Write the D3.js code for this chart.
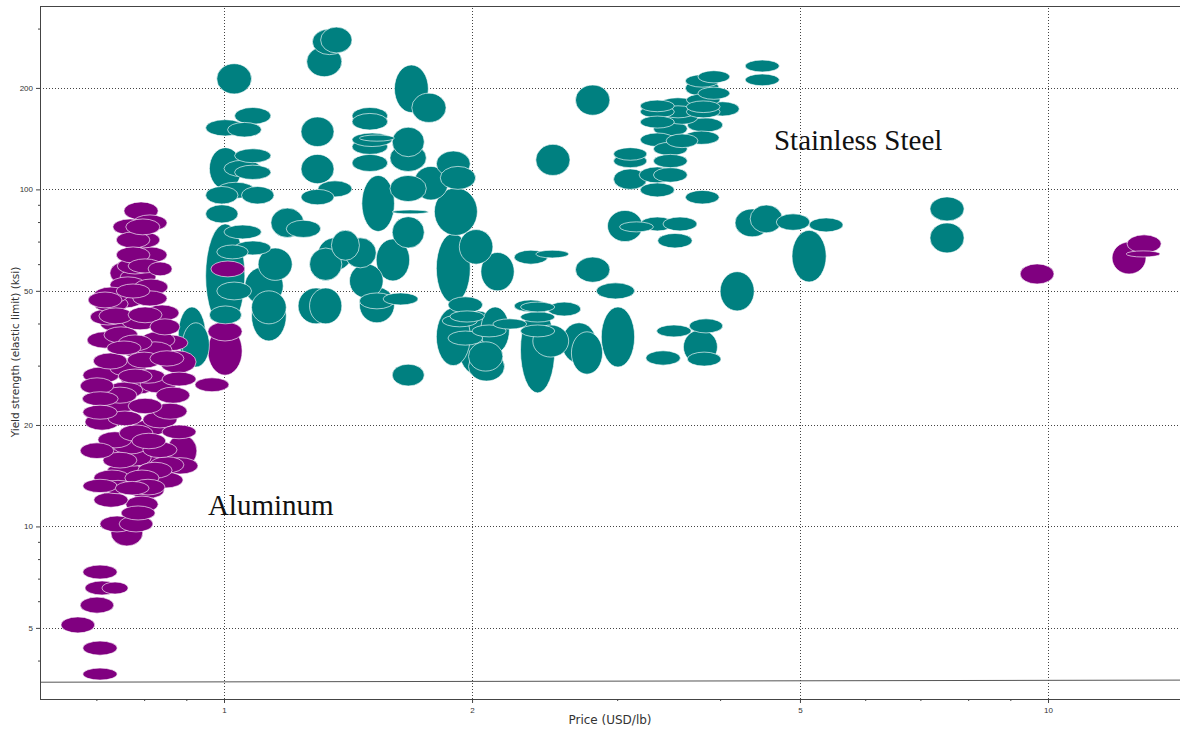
<!DOCTYPE html>
<html>
<head>
<meta charset="utf-8">
<script src="https://cdn.jsdelivr.net/npm/d3@7"></script>
<style>
  body { margin: 0; background: #fff; }
  svg { display: block; }
</style>
</head>
<body>
<svg id="chart"></svg>
<script>
// axis ticks
const priceTicks = [1, 2, 5, 10];
const priceMinorTicks = [0.7, 0.8, 0.9, 3, 4, 6, 7, 8, 9];
const strengthTicks = [5, 10, 20, 50, 100, 200];
const strengthMinorTicks = [4, 6, 7, 8, 9, 30, 40, 60, 70, 80, 90, 300];

// each material: [price low, price high, yield strength low, yield strength high]
const stainless = [
  [1.28,1.41,251,299],[1.31,1.43,254,303],[1.26,1.39,216,265],[0.98,1.08,192,236],
  [1.61,1.77,169,234],[1.69,1.86,158,193],[1.03,1.14,156,175],[1.01,1.11,143,158],
  [0.95,1.06,144,161],[1.24,1.36,134,164],[1.43,1.58,156,175],[1.43,1.58,150,168],
  [1.43,1.60,134,147],[1.46,1.61,139,145],[1.43,1.58,127,141],[1.43,1.58,113,127],
  [1.60,1.75,125,153],[1.59,1.76,113,136],[1.24,1.36,104,127],[1.30,1.43,95,106],
  [1.24,1.36,90,100],[0.96,1.05,100,133],[1.03,1.14,120,132],[1.00,1.11,109,122],
  [1.03,1.14,107,118],[0.98,1.09,94,105],[0.95,1.04,90.5,102],[1.05,1.15,90.5,102],
  [0.95,1.04,79.5,90],[1.14,1.25,72,88],[1.19,1.31,72,81],[1.00,1.11,71.3,78.4],
  [1.47,1.61,75,110],[1.59,1.76,92,110],[1.60,1.77,84.6,86.9],[1.60,1.75,67,83],
  [1.70,1.87,93,117],[1.81,1.99,109,130],[1.83,2.02,100,117],[1.80,2.03,73,101],
  [1.81,1.99,46,74],[1.93,2.12,60,76],[2.05,2.25,50,65],[2.25,2.47,60,66],
  [2.39,2.62,62.6,66],[2.67,2.94,53,63],[2.83,3.15,47.3,52.8],[4.0,4.4,43.6,57],
  [3.36,3.70,67,74],[1.81,1.99,30,44.5],[1.92,2.16,28,43.6],[1.87,2.06,43,48],
  [1.88,2.07,40.4,43.6],[1.84,2.03,39.1,42.4],[1.87,2.06,34.5,38],[2.0,2.2,36.5,39.6],
  [2.12,2.33,38.5,41.3],[2.05,2.22,32.7,44.8],[1.98,2.18,28.9,35.3],[1.98,2.19,27,32.9],
  [2.29,2.52,24.9,44.8],[2.25,2.47,43.3,47],[2.29,2.52,43.3,46.3],[2.29,2.52,40.4,43.3],
  [2.29,2.52,36.5,39.6],[2.47,2.71,42.1,46.3],[2.37,2.62,31.8,39.6],[2.57,2.83,30.5,40.2],
  [2.64,2.88,28.3,37.8],[2.87,3.15,29.7,44.8],[3.35,3.69,36.5,39.6],[3.67,4.03,37.5,41.3],
  [3.61,3.97,30.3,38.3],[3.65,4.01,29.9,32.9],[3.25,3.58,30.1,33.2],[1.60,1.75,26.1,30.3],
  [0.95,1.06,38.8,79],[0.98,1.07,62.2,68.4],[1.03,1.14,63.9,70.3],[1.10,1.21,53.7,67],
  [1.06,1.18,45.4,58.9],[1.08,1.19,35.5,50],[1.08,1.19,39.9,50],[0.98,1.08,47,53.1],
  [0.96,1.05,39.9,45.1],[0.88,0.95,30.5,44.8],[0.89,0.96,29.7,40.2],[1.27,1.39,53.7,67],
  [1.30,1.43,57.5,71.8],[1.35,1.46,61.6,75.6],[1.40,1.53,58.5,71.8],[1.53,1.68,53.5,71.3],
  [1.42,1.56,47.6,60.1],[1.23,1.36,39.9,51],[1.27,1.39,39.9,51],[1.46,1.61,40.2,51.3],
  [1.46,1.61,44.2,49.3],[1.56,1.72,45.4,49.3],[2.67,2.94,166,204],[2.39,2.63,110,136],
  [4.29,4.72,223,242],[4.29,4.72,203,220],[3.76,4.11,207,225],[3.63,3.99,201,219],
  [3.63,3.99,189,211],[3.76,4.11,185,201],[3.64,4.0,177,192],[3.84,4.22,165,182],
  [3.64,4.0,169,183],[3.20,3.52,170,184],[3.38,3.74,172,187],[3.20,3.52,163,177],
  [3.39,3.73,163,177],[3.64,4.0,163,177],[3.20,3.52,152,165],[3.44,3.76,156,172],
  [3.65,4.03,148,163],[3.32,3.65,144,159],[3.61,3.99,136,149],[3.20,3.52,134,147],
  [3.44,3.76,133,146],[3.32,3.65,126,138],[3.32,3.65,116,127],[2.97,3.26,122,133],
  [2.97,3.26,116,127],[2.97,3.26,100,115],[3.19,3.53,104.5,116.6],[3.32,3.65,105,116],
  [3.20,3.52,95,104.5],[3.63,3.99,90.5,99.3],[2.92,3.22,70,86.6],[3.02,3.32,74.8,80.1],
  [3.20,3.52,75.3,82.8],[3.41,3.75,75.3,82.8],[4.17,4.59,72.3,87.5],[4.35,4.76,74.3,89.9],
  [4.68,5.14,75.6,84.6],[5.13,5.64,74.8,82.3],[4.89,5.38,53.1,75.6],[7.19,7.91,80.6,95],
  [7.19,7.91,64.8,79.5]
];

const aluminum = [
  [0.756,0.832,81.2,91.8],[0.775,0.853,75.3,84],[0.733,0.807,73.3,81.7],[0.760,0.836,73.3,81.7],
  [0.740,0.813,67,74.8],[0.760,0.836,67,74.8],[0.740,0.813,60.5,67.5],[0.742,0.820,56.1,62.6],
  [0.809,0.865,55.4,60.9],[0.727,0.804,52,61.3],[0.748,0.827,52,58.1],[0.727,0.804,49.3,55],
  [0.740,0.813,47.6,52.4],[0.695,0.765,46,51.3],[0.695,0.765,43.3,48.3],[0.778,0.855,48.6,54.2],
  [0.775,0.853,45.1,50],[0.802,0.882,40.7,45.4],[0.707,0.778,37.8,42.7],[0.813,0.884,37,41.3],
  [0.715,0.786,35,39.1],[0.744,0.818,33.2,37],[0.793,0.872,33.8,37.8],[0.721,0.793,32.3,35.5],
  [0.694,0.763,29.3,32.7],[0.763,0.839,29.5,32.9],[0.813,0.894,29.9,33.2],[0.836,0.925,28.5,33.2],
  [0.674,0.746,26.6,29.7],[0.744,0.818,26.6,29.3],[0.841,0.925,26.1,28.7],[0.669,0.735,24.7,27.6],
  [0.748,0.827,24.7,27.9],[0.771,0.848,26.6,29.3],[0.827,0.909,23.2,25.9],[0.673,0.744,22.8,25.1],
  [0.765,0.841,21.6,24],[0.820,0.902,20.8,23.2],[0.674,0.742,20.8,22.9],[0.678,0.746,19.3,21.6],
  [0.746,0.820,17.9,20],[0.773,0.850,17,18.9],[0.841,0.925,18.2,20],[0.853,0.927,15,18.7],
  [0.669,0.735,15.9,17.7],[0.742,0.816,15.1,16.9],[0.813,0.894,14.4,16.1],[0.721,0.797,13.8,15.4],
  [0.758,0.834,13.2,14.7],[0.771,0.848,12.4,13.8],[0.674,0.742,12.6,13.8],[0.709,0.780,12.5,13.7],
  [0.738,0.811,12.4,13.6],[0.769,0.846,12.1,13.5],[0.695,0.765,11.4,12.6],[0.760,0.832,11,12.3],
  [0.750,0.825,10.45,11.5],[0.707,0.778,9.63,10.74],[0.746,0.820,9.63,10.74],[0.729,0.797,8.75,10.45],
  [0.674,0.742,6.98,7.68],[0.678,0.746,6.26,6.89],[0.711,0.765,6.3,6.84],[0.669,0.735,5.53,6.17],
  [0.634,0.697,4.83,5.39],[0.674,0.742,4.15,4.57],[0.674,0.742,3.5,3.8],[0.964,1.06,55,61.3],
  [0.956,1.052,35.5,40.4],[0.956,1.052,28.1,39.1],[0.922,1.014,25.1,27.6],[9.25,10.17,52.4,60.1],
  [11.96,13.15,56.1,69.8],[12.47,13.72,64.8,73.3],[12.44,13.68,63,65.7],[0.705,0.775,39.9,44.5],
  [0.765,0.841,40.2,44.8],[0.786,0.865,31.6,35.3],[0.713,0.784,23.2,25.9],[0.797,0.877,19.6,21.9],
  [0.703,0.773,17.1,19.1],[0.797,0.877,16,17.8],[0.713,0.784,14.9,16.6],[0.684,0.752,44.5,49.6],
  [0.775,0.853,60.5,67.5],[0.765,0.841,56.5,62.2],[0.723,0.795,19.9,22],[0.786,0.865,13.9,15.5],
  [0.733,0.807,16.4,18.3],[0.688,0.760,39.6,44.2],[0.752,0.832,38.3,42.7],[0.682,0.754,33.8,37.8],
  [0.818,0.904,33.2,37],[0.727,0.804,27.9,31],[0.791,0.875,24.9,28.1],[0.707,0.782,21.7,24.2],
  [0.773,0.855,18.6,20.7],[0.701,0.775,16,17.8],[0.773,0.855,15.2,17],[0.841,0.93,14.3,16],
  [0.695,0.769,13.2,14.7],[0.807,0.892,13,14.5],[0.721,0.797,44.5,49.6],[0.721,0.797,24,26.8],
  [0.752,0.832,31.6,35.3]
];

// selection line near the bottom: [price, yield strength]
const guideLine = [[0.598, 3.45], [14.46, 3.5]];

// family labels: [text, price, yield strength]
const familyLabels = [["Aluminum", 0.956, 10.8], ["Stainless Steel", 4.65, 131]];

const width = 1180, height = 731;
const plotLeft = 40, plotRight = 1180, plotTop = 6, plotBottom = 699;

const svg = d3.select("#chart")
              .attr("width", width)
              .attr("height", height)
              .style("font-family", "'Liberation Sans', sans-serif");

const x = d3.scaleLog().domain([0.598, 14.46]).range([plotLeft, plotRight]);
const y = d3.scaleLog().domain([3.076, 350]).range([plotBottom, plotTop]);

// grid (light dotted)
    svg.append("g")
        .attr("transform", `translate(0,${plotBottom})`)
        .call(d3.axisBottom(x).tickValues(priceTicks).tickSize(-(plotBottom - plotTop)).tickFormat(""))
        .call(g => g.select(".domain").remove())
        .selectAll("line")
        .attr("stroke", "#a6a6a6")
        .attr("shape-rendering", "crispEdges")
        .attr("stroke-dasharray", "1,2");

    svg.append("g")
        .attr("transform", `translate(${plotLeft},0)`)
        .call(d3.axisLeft(y).tickValues(strengthTicks).tickSize(-(plotRight - plotLeft)).tickFormat(""))
        .call(g => g.select(".domain").remove())
        .selectAll("line")
        .attr("stroke", "#a6a6a6")
        .attr("shape-rendering", "crispEdges")
        .attr("stroke-dasharray", "1,2");

// ellipses, biggest first so small ones stay on top
const toEllipse = (d, color) => {
    const x0 = x(d[0]), x1 = x(d[1]), y0 = y(d[2]), y1 = y(d[3]);
    return {cx: (x0 + x1) / 2, cy: (y0 + y1) / 2, rx: (x1 - x0) / 2, ry: (y0 - y1) / 2, color: color};
};

const shapes = stainless.map(d => toEllipse(d, "#008080"))
                        .concat(aluminum.map(d => toEllipse(d, "#800080")))
                        .sort((a, b) => b.rx * b.ry - a.rx * a.ry);

svg.append("clipPath").attr("id", "plotClip")
    .append("rect").attr("x", plotLeft).attr("y", plotTop)
    .attr("width", plotRight - plotLeft).attr("height", plotBottom - plotTop);

svg.append("g")
    .attr("clip-path", "url(#plotClip)")
    .selectAll("ellipse")
    .data(shapes)
    .enter()
    .append("ellipse")
    .attr("cx", d => d.cx)
    .attr("cy", d => d.cy)
    .attr("rx", d => d.rx)
    .attr("ry", d => d.ry)
    .style("fill", d => d.color)
    .style("stroke", "rgba(255,255,255,0.7)")
    .style("stroke-width", 0.9);

// guide line
svg.append("path")
    .datum(guideLine)
    .attr("d", d3.line().x(d => x(d[0])).y(d => y(d[1])))
    .attr("fill", "none")
    .attr("stroke", "#555")
    .attr("stroke-width", 1);

// frame
svg.append("rect")
    .attr("x", plotLeft + 0.5).attr("y", plotTop + 0.5)
    .attr("width", plotRight - plotLeft + 2).attr("height", plotBottom - plotTop)
    .attr("fill", "none")
    .attr("stroke", "#444");

// axes
const xAxis = svg.append("g")
    .attr("transform", `translate(0,${plotBottom})`)
    .call(d3.axisBottom(x).tickValues(priceTicks).tickSize(4).tickFormat(d3.format("d")));
svg.append("g")
    .attr("transform", `translate(0,${plotBottom})`)
    .call(d3.axisBottom(x).tickValues(priceMinorTicks).tickSize(2).tickFormat(""));

const yAxis = svg.append("g")
    .attr("transform", `translate(${plotLeft},0)`)
    .call(d3.axisLeft(y).tickValues(strengthTicks).tickSize(4).tickFormat(d3.format("d")));
svg.append("g")
    .attr("transform", `translate(${plotLeft},0)`)
    .call(d3.axisLeft(y).tickValues(strengthMinorTicks).tickSize(2).tickFormat(""));

svg.selectAll(".domain").remove();
svg.selectAll(".tick line").attr("stroke", "#444");
svg.selectAll(".tick text")
    .attr("fill", "#333")
    .style("font-size", "8px")
    .style("font-family", "'Liberation Sans', sans-serif");
xAxis.selectAll(".tick text").attr("dy", "0.9em");

// axis titles
svg.append("text")
    .attr("x", 610).attr("y", 724)
    .attr("text-anchor", "middle")
    .style("font-family", "'DejaVu Sans', sans-serif")
    .style("font-size", "12px")
    .attr("fill", "#333")
    .text("Price (USD/lb)");

svg.append("text")
    .attr("transform", "translate(19,352) rotate(-90)")
    .attr("text-anchor", "middle")
    .style("font-family", "'DejaVu Sans', sans-serif")
    .style("font-size", "10.5px")
    .attr("fill", "#333")
    .text("Yield strength (elastic limit) (ksi)");

// family labels
svg.selectAll(".familyLabel")
    .data(familyLabels)
    .enter()
    .append("text")
    .attr("class", "familyLabel")
    .attr("x", d => x(d[1]))
    .attr("y", d => y(d[2]))
    .style("font-family", "'Liberation Serif', 'Times New Roman', serif")
    .style("font-size", "29px")
    .attr("fill", "#111")
    .text(d => d[0]);
</script>
</body>
</html>
